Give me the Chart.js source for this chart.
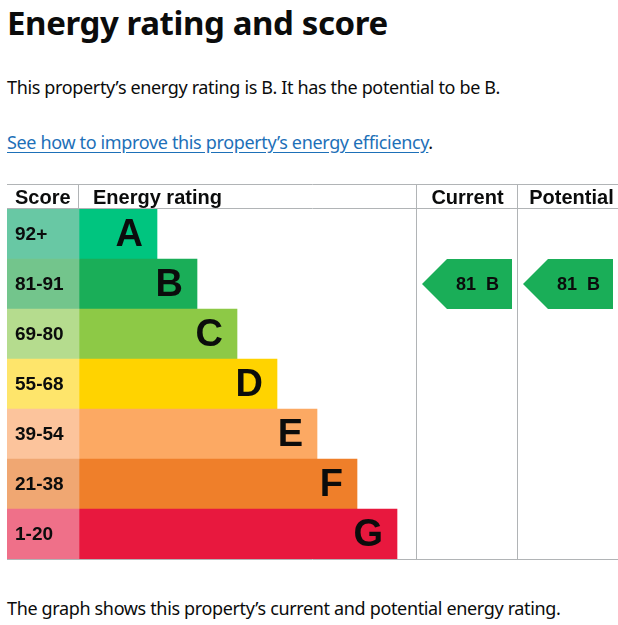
<!DOCTYPE html>
<html>
<head>
<meta charset="utf-8">
<script src="https://cdn.jsdelivr.net/npm/chart.js@4.4.0/dist/chart.umd.min.js"></script>
<style>
  body { margin: 0; background: #fff; width: 618px; height: 625px; overflow: hidden;
         font-family: "Noto Sans", sans-serif; color: #0b0c0c; position: relative; }
  .t { position: absolute; left: 7px; margin: 0; white-space: nowrap; line-height: 1; }
  h1.t { top: 6px; font-size: 33px; font-weight: 700; letter-spacing: -0.4px; }
  .body { font-size: 18px; letter-spacing: -0.35px; }
  #p1 { top: 78px; }
  #p2 { top: 133px; }
  #p2 a { color: #1d70b8; text-decoration: underline; text-underline-offset: 3px; }
  #p3 { top: 599px; }
  #wrap { position: absolute; left: 7px; top: 184px; width: 611px; height: 376px; }
</style>
</head>
<body>
<h1 class="t">Energy rating and score</h1>
<p class="t body" id="p1">This property’s energy rating is B. It has the potential to be B.</p>
<p class="t body" id="p2"><a href="#">See how to improve this property’s energy efficiency</a>.</p>
<div id="wrap"><canvas id="epcChart"></canvas></div>
<p class="t body" id="p3">The graph shows this property’s current and potential energy rating.</p>

<script>
// bands and scores
const bands = ["A", "B", "C", "D", "E", "F", "G"];
const scoreRanges = ["92+", "81-91", "69-80", "55-68", "39-54", "21-38", "1-20"];
const bandMinScores = [92, 81, 69, 55, 39, 21, 1];
const currentScore = 81;
const potentialScore = 81;

const bandColours = ["#00c57f", "#1aae58", "#8dc946", "#ffd300", "#fca963", "#ef7f2a", "#e8183e"];
const scoreColours = ["#68c8a4", "#73c58c", "#b5dc8e", "#fee56b", "#fcc49c", "#f0a772", "#ef7089"];

// layout (x units are pixels measured from the start of the rating bars)
const SCORE_W = 72, BAR_BASE = 78, BAR_STEP = 40;
const COL_CURRENT = 337, COL_POTENTIAL = 438, X_END = 539;
const LINE = "#b1b4b6", INK = "#0b0c0c";
const FONT = "'Liberation Sans', Arial, sans-serif";

function bandIndex(score) {
  return bandMinScores.findIndex(m => score >= m);
}

const epcPlugin = {
  id: "epc",
  beforeDatasetsDraw(chart) {
    const { ctx, chartArea: a, scales: { x } } = chart;
    ctx.save();
    ctx.strokeStyle = LINE;
    ctx.lineWidth = 1;
    ctx.beginPath();
    // top, header and bottom rules
    ctx.moveTo(0, 0.5); ctx.lineTo(a.right, 0.5);
    ctx.moveTo(0, a.top - 0.5); ctx.lineTo(a.right, a.top - 0.5);
    ctx.moveTo(0, a.bottom + 0.5); ctx.lineTo(a.right, a.bottom + 0.5);
    // column dividers
    const x0 = Math.round(x.getPixelForValue(0)) - 0.5;
    ctx.moveTo(x0, 0); ctx.lineTo(x0, a.top);
    [COL_CURRENT, COL_POTENTIAL].forEach(v => {
      const px = Math.round(x.getPixelForValue(v)) + 0.5;
      ctx.moveTo(px, 0); ctx.lineTo(px, a.bottom + 1);
    });
    ctx.stroke();

    // header labels
    ctx.fillStyle = INK;
    ctx.font = "bold 20px " + FONT;
    ctx.textBaseline = "alphabetic";
    ctx.textAlign = "left";
    const hy = a.top - 5;
    ctx.fillText("Score", x.getPixelForValue(-SCORE_W) + 8, hy);
    ctx.fillText("Energy rating", x.getPixelForValue(0) + 14, hy);
    ctx.textAlign = "center";
    ctx.fillText("Current", (x.getPixelForValue(COL_CURRENT) + x.getPixelForValue(COL_POTENTIAL)) / 2 + 1, hy);
    ctx.fillText("Potential", (x.getPixelForValue(COL_POTENTIAL) + x.getPixelForValue(X_END)) / 2 + 4, hy);
    ctx.restore();
  },
  afterDatasetsDraw(chart) {
    const { ctx, scales: { x } } = chart;
    const scoreMeta = chart.getDatasetMeta(0);
    const barMeta = chart.getDatasetMeta(1);
    ctx.save();
    ctx.fillStyle = INK;

    // score ranges
    ctx.font = "bold 19px " + FONT;
    ctx.textAlign = "left";
    ctx.textBaseline = "middle";
    scoreMeta.data.forEach((el, i) => {
      ctx.fillText(scoreRanges[i], Math.min(el.x, el.base) + 8, el.y + 1);
    });

    // band letters
    ctx.font = "bold 38px " + FONT;
    ctx.textAlign = "right";
    barMeta.data.forEach((el, i) => {
      ctx.fillText(bands[i], Math.max(el.x, el.base) - 14, el.y + 2);
    });

    // current / potential arrows
    [[currentScore, COL_CURRENT, COL_POTENTIAL], [potentialScore, COL_POTENTIAL, X_END]].forEach(([score, c0, c1]) => {
      const bi = bandIndex(score);
      const el = barMeta.data[bi];
      const top = el.y - el.height / 2, bottom = el.y + el.height / 2;
      const left = x.getPixelForValue(c0) + 6, right = x.getPixelForValue(c1) - 5;
      const tip = 25;
      ctx.fillStyle = bandColours[bi];
      ctx.beginPath();
      ctx.moveTo(left, el.y);
      ctx.lineTo(left + tip, top);
      ctx.lineTo(right, top);
      ctx.lineTo(right, bottom);
      ctx.lineTo(left + tip, bottom);
      ctx.closePath();
      ctx.fill();
      ctx.fillStyle = INK;
      ctx.font = "bold 18px " + FONT;
      ctx.textAlign = "center";
      ctx.fillText(score + "  " + bands[bi], (left + tip + right) / 2 - 2, el.y + 1);
    });
    ctx.restore();
  }
};

new Chart(document.getElementById("epcChart").getContext("2d"), {
  type: "bar",
  data: {
    labels: bands,
    datasets: [
      {
        label: "Score",
        data: bands.map(() => [-SCORE_W, 0]),
        backgroundColor: scoreColours,
        grouped: false
      },
      {
        label: "Energy rating",
        data: bands.map((b, i) => [0, BAR_BASE + BAR_STEP * i]),
        backgroundColor: bandColours,
        grouped: false
      }
    ]
  },
  options: {
    indexAxis: "y",
    responsive: true,
    maintainAspectRatio: false,
    animation: false,
    events: [],
    barPercentage: 1,
    categoryPercentage: 1,
    layout: { padding: { top: 25, bottom: 1, left: 0, right: 0 } },
    scales: {
      x: { type: "linear", min: -SCORE_W, max: X_END, display: false },
      y: { display: false }
    },
    plugins: {
      legend: { display: false },
      tooltip: { enabled: false }
    }
  },
  plugins: [epcPlugin]
});
</script>
</body>
</html>
